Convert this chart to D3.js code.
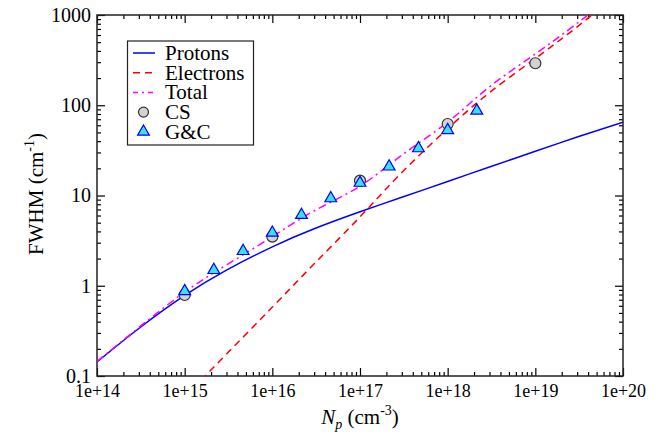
<!DOCTYPE html>
<html>
<head>
<meta charset="utf-8">
<script src="https://cdn.jsdelivr.net/npm/d3@7"></script>
<style>
  body { margin: 0; background: #fff; }
</style>
</head>
<body>
<div id="chart"></div>
<script>
// model curves
const density = [1e14, 3e14, 1e15, 3e15, 1e16, 3e16, 1e17, 3e17, 1e18, 3e18, 1e19, 3e19, 1e20];
const protons = [0.143, 0.336, 0.78, 1.49, 2.7, 4.28, 6.6, 9.55, 14.3, 20.7, 30.9, 44.4, 65];
const electronDensity = [1e15, 3e15, 1e16, 3e16, 1e17, 3e17, 1e18, 3e18, 1e19, 3e19, 1e20];
const electrons = [0.058, 0.175, 0.58, 1.75, 5.8, 18, 55, 138, 330, 740, 1900];
const total = [0.145, 0.345, 0.85, 1.7, 3.5, 6.75, 12.7, 28, 65, 160, 370, 810, 1950];

// measured points
const csDensity = [1e15, 1e16, 1e17, 1e18, 1e19];
const csFwhm = [0.79, 3.5, 14.6, 62, 292];
const gcDensity = [1e15, 2.15e15, 4.64e15, 1e16, 2.15e16, 4.64e16, 1e17, 2.15e17, 4.64e17, 1e18, 2.15e18];
const gcFwhm = [0.87, 1.49, 2.42, 3.86, 6.07, 9.3, 13.8, 20.9, 33.3, 53, 87];

const xTicks = [1e14, 1e15, 1e16, 1e17, 1e18, 1e19, 1e20];
const yTicks = [0.1, 1, 10, 100, 1000];

const FONT = '"Liberation Serif", "Times New Roman", Times, serif';

var margin = { top: 15, bottom: 67, left: 97, right: 44 };
var width = 667 - margin.left - margin.right;
var height = 443 - margin.top - margin.bottom;

var svg = d3.select("#chart").append("svg")
    .attr("width", 667)
    .attr("height", 443)
    .attr("font-family", FONT);

const g = svg.append("g").attr("transform", `translate(${margin.left},${margin.top})`);

const x = d3.scaleLog().domain([1e14, 1e20]).range([0, width]);
const y = d3.scaleLog().domain([0.1, 1000]).range([height, 0]);

// minor ticks 2..9 in every decade
function minors(lo, hi) {
    const out = [];
    for (let e = lo; e < hi; e++) {
        for (let k = 2; k <= 9; k++) out.push(k * Math.pow(10, e));
    }
    return out;
}
const xMinor = minors(14, 20);
const yMinor = minors(-1, 3);

const fmtX = d => "1e+" + Math.round(Math.log10(d));
const fmtY = d => d < 1 ? "0.1" : String(d);

function styleAxis(sel, size) {
    sel.attr("font-family", FONT);
    sel.select(".domain").remove();
    sel.selectAll("line").attr("stroke", "#000").attr("stroke-width", 1.2);
    sel.selectAll("text").attr("font-size", size || 20).attr("fill", "#000");
}

g.append("g").attr("transform", `translate(0,${height})`)
    .call(d3.axisBottom(x).tickValues(xTicks).tickFormat(fmtX).tickSize(-8).tickPadding(8))
    .call(styleAxis, 18);
g.append("g").attr("transform", `translate(0,${height})`)
    .call(d3.axisBottom(x).tickValues(xMinor).tickFormat("").tickSize(-4))
    .call(styleAxis);
g.append("g")
    .call(d3.axisTop(x).tickValues(xTicks).tickFormat("").tickSize(-8))
    .call(styleAxis);
g.append("g")
    .call(d3.axisTop(x).tickValues(xMinor).tickFormat("").tickSize(-4))
    .call(styleAxis);

g.append("g")
    .call(d3.axisLeft(y).tickValues(yTicks).tickFormat(fmtY).tickSize(-8).tickPadding(6))
    .call(styleAxis, 20);
g.append("g")
    .call(d3.axisLeft(y).tickValues(yMinor).tickFormat("").tickSize(-4))
    .call(styleAxis);
g.append("g").attr("transform", `translate(${width},0)`)
    .call(d3.axisRight(y).tickValues(yTicks).tickFormat("").tickSize(-8))
    .call(styleAxis);
g.append("g").attr("transform", `translate(${width},0)`)
    .call(d3.axisRight(y).tickValues(yMinor).tickFormat("").tickSize(-4))
    .call(styleAxis);

// frame
g.append("rect")
    .attr("width", width).attr("height", height)
    .attr("fill", "none").attr("stroke", "#222").attr("stroke-width", 1.5);

svg.append("defs").append("clipPath").attr("id", "clip")
    .append("rect").attr("width", width).attr("height", height);

const line = d3.line()
    .x(d => x(d[0]))
    .y(d => y(d[1]))
    .curve(d3.curveNatural);

const plot = g.append("g").attr("clip-path", "url(#clip)");

plot.append("path")
    .datum(d3.zip(density, protons))
    .attr("d", line)
    .attr("fill", "none").attr("stroke", "#0000ff").attr("stroke-width", 1.5);

plot.append("path")
    .datum(d3.zip(electronDensity, electrons))
    .attr("d", line)
    .attr("fill", "none").attr("stroke", "#ff0000").attr("stroke-width", 1.5)
    .attr("stroke-dasharray", "7,5");

plot.append("path")
    .datum(d3.zip(density, total))
    .attr("d", line)
    .attr("fill", "none").attr("stroke", "#ff00ff").attr("stroke-width", 1.5)
    .attr("stroke-dasharray", "8,4,2,4");

const tri = d3.symbol().type(d3.symbolTriangle).size(60);

g.selectAll("circle.cs")
    .data(d3.zip(csDensity, csFwhm))
    .join("circle")
    .attr("class", "cs")
    .attr("cx", d => x(d[0])).attr("cy", d => y(d[1]))
    .attr("r", 5.5)
    .attr("fill", "#d3d3d3").attr("stroke", "#333").attr("stroke-width", 1.2);

g.selectAll("path.gc")
    .data(d3.zip(gcDensity, gcFwhm))
    .join("path")
    .attr("class", "gc")
    .attr("d", tri)
    .attr("transform", d => `translate(${x(d[0])},${y(d[1])})`)
    .attr("fill", "#3fe0e0").attr("stroke", "#0000ff").attr("stroke-width", 1.2);

// legend
const legend = svg.append("g");
legend.append("rect")
    .attr("x", 127.5).attr("y", 41).attr("width", 126).attr("height", 104)
    .attr("fill", "#fff").attr("stroke", "#222").attr("stroke-width", 1.2);

const legendNames = ["Protons", "Electrons", "Total", "CS", "G&C"];
legendNames.forEach((name, i) => {
    const ly = 53 + i * 19.7;
    if (i === 0) legend.append("line").attr("x1", 133).attr("x2", 155).attr("y1", ly).attr("y2", ly)
        .attr("stroke", "#0000ff").attr("stroke-width", 1.5);
    if (i === 1) legend.append("line").attr("x1", 133).attr("x2", 155).attr("y1", ly).attr("y2", ly)
        .attr("stroke", "#ff0000").attr("stroke-width", 1.5).attr("stroke-dasharray", "7,5");
    if (i === 2) legend.append("line").attr("x1", 133).attr("x2", 155).attr("y1", ly).attr("y2", ly)
        .attr("stroke", "#ff00ff").attr("stroke-width", 1.5).attr("stroke-dasharray", "5,4,2,4");
    if (i === 3) legend.append("circle").attr("cx", 143.5).attr("cy", ly).attr("r", 5)
        .attr("fill", "#d3d3d3").attr("stroke", "#333").attr("stroke-width", 1.2);
    if (i === 4) legend.append("path").attr("d", tri).attr("transform", `translate(143.5,${ly})`)
        .attr("fill", "#3fe0e0").attr("stroke", "#0000ff").attr("stroke-width", 1.2);
    legend.append("text").attr("x", 165).attr("y", ly + 7)
        .attr("font-size", 21).text(name);
});

// axis titles
const yt = svg.append("text")
    .attr("transform", "translate(43,194) rotate(-90)")
    .attr("text-anchor", "middle").attr("font-size", 21);
yt.append("tspan").text("FWHM (cm");
yt.append("tspan").attr("font-size", 14).attr("dy", -9).text("-1");
yt.append("tspan").attr("dy", 9).text(")");

const xt = svg.append("text")
    .attr("x", 360).attr("y", 424)
    .attr("text-anchor", "middle").attr("font-size", 21);
xt.append("tspan").attr("font-style", "italic").text("N");
xt.append("tspan").attr("font-style", "italic").attr("font-size", 14).attr("dy", 5).text("p");
xt.append("tspan").attr("dy", -5).text(" (cm");
xt.append("tspan").attr("font-size", 14).attr("dy", -9).text("-3");
xt.append("tspan").attr("dy", 9).text(")");
</script>
</body>
</html>
